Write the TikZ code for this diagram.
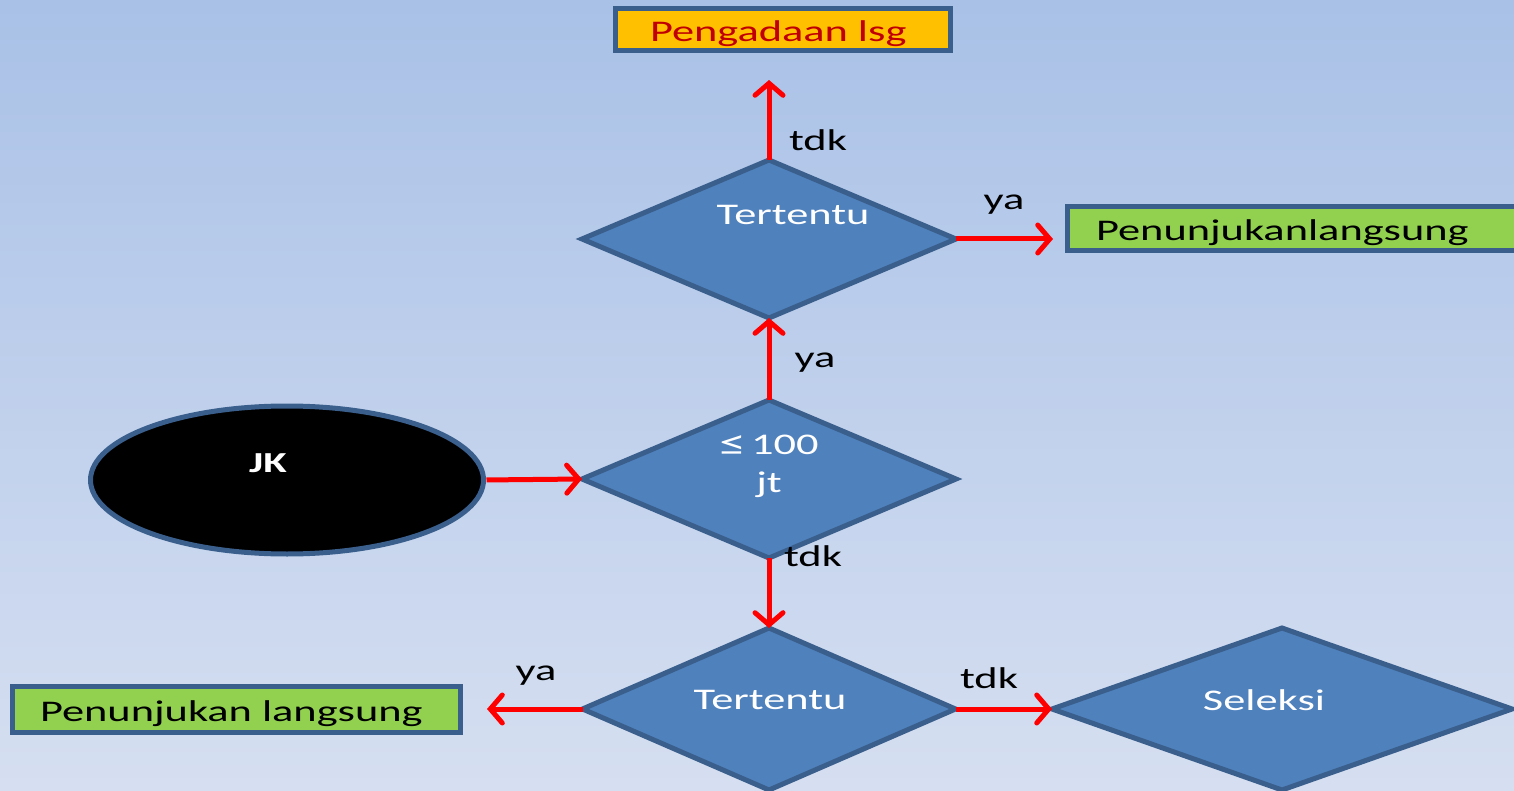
\documentclass[tikz,border=0pt]{standalone}
\usepackage{fontspec}
\setmainfont{Carlito}[FakeStretch=1.48]
\usetikzlibrary{shapes.geometric,arrows.meta}

\definecolor{bgtop}{HTML}{A9C1E7}
\definecolor{bgbot}{HTML}{D6DFF1}
\definecolor{shapeblue}{HTML}{4F81BD}
\definecolor{edgeblue}{HTML}{3A5F8C}
\definecolor{amber}{HTML}{FFC000}
\definecolor{darkred}{HTML}{C00000}
\definecolor{leaf}{HTML}{92D050}
\definecolor{flow}{HTML}{FF0000}

\tikzset{
  txt/.style={font=\fontsize{30}{36}\selectfont, inner sep=0pt},
  wtxt/.style={txt, text=white},
  decision/.style={diamond, draw=edgeblue, fill=shapeblue, line width=5pt,
    inner sep=0pt, outer sep=0pt},
  outcome/.style={rectangle, draw=edgeblue, line width=5pt, inner ysep=0pt,
    outer sep=0pt, font=\fontsize{30}{36}\selectfont, anchor=west,
    align=left, text height=24pt, text depth=0pt},
  arr/.style={draw=flow, line width=5pt,
    -{Straight Barb[length=12pt,width=28pt,line cap=round]}},
}

\begin{document}
\begin{tikzpicture}[x=1pt,y=-1pt]
  % canvas and backdrop
  \useasboundingbox (0,0) rectangle (1514,791);
  \clip (0,0) rectangle (1514,791);
  \shade[top color=bgtop, bottom color=bgbot] (0,0) rectangle (1514,791);

  % decisions
  \node[decision, minimum width=374pt, minimum height=158pt] (d1) at (769,239) {};
  \node[decision, minimum width=374pt, minimum height=158pt] (d2) at (769,479) {};
  \node[decision, minimum width=373pt, minimum height=162pt] (d3) at (769,709) {};
  \node[decision, minimum width=460pt, minimum height=162pt] (d4) at (1282,709) {};

  % start
  \node[ellipse, draw=edgeblue, fill=black, line width=5pt, inner sep=0pt,
    outer sep=0pt, minimum width=393pt, minimum height=148pt] (jk) at (287,480) {};

  % outcomes
  \node[outcome, fill=amber, text=darkred, minimum height=42pt,
    text width=265pt, inner xsep=35pt] (lsg) at (615,30) {Pengadaan lsg};
  \node[outcome, fill=leaf, minimum height=44pt,
    text width=406pt, inner xsep=29pt] (pl1) at (1067,229) {Penunjukanlangsung};
  \node[outcome, fill=leaf, minimum height=46pt,
    text width=392pt, inner xsep=28pt] (pl2) at (12,709) {Penunjukan langsung};

  % texts inside shapes
  \node[wtxt] (t1) at (793,215) {Tertentu};
  \node[wtxt] (t2a) at (769,445) {\raisebox{-1pt}{\fontsize{36}{36}\selectfont ≤}\,100};
  \node[wtxt] (t2b) at (769,485) {jt};
  \node[wtxt] (t3) at (770,700) {Tertentu};
  \node[wtxt] (t4) at (1264,700) {Seleksi};
  \node[wtxt, font=\fontsize{29}{34}\selectfont\bfseries] (tjk) at (268,463) {JK};

  % connectors
  \draw[arr, shorten >=29pt] (d1.north) -- (d1.north |- lsg.south);
  \draw[arr, shorten >=14pt] (d1.east) -- (d1.east -| pl1.west);
  \draw[arr] (d2.north) -- (d1.south);
  \draw[arr, shorten <=3pt] (jk.east) -- (d2.west);
  \draw[arr] (d2.south) -- (d3.north);
  \draw[arr, shorten >=27pt] (d3.west) -- (pl2.east);
  \draw[arr] (d3.east) -- (d4.west);

  % branch labels
  \node[txt] (l1) at (818,140) {tdk};
  \node[txt] (l2) at (1004,205) {ya};
  \node[txt] (l3) at (815,363) {ya};
  \node[txt] (l4) at (813,556) {tdk};
  \node[txt] (l5) at (536,676) {ya};
  \node[txt] (l6) at (989,678) {tdk};
\end{tikzpicture}
\end{document}
